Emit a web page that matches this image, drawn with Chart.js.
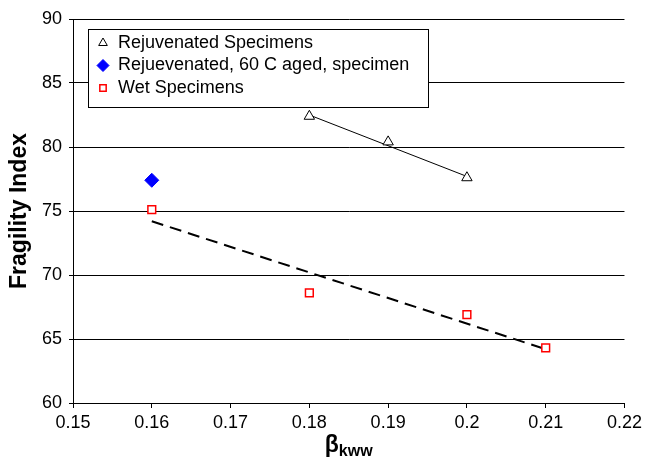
<!DOCTYPE html>
<html>
<head>
<meta charset="utf-8">
<script src="https://cdn.jsdelivr.net/npm/chart.js@4.4.0/dist/chart.umd.min.js"></script>
<style>
  body { margin: 0; background: #fff; }
</style>
</head>
<body>
<canvas id="chart" width="646" height="464"></canvas>
<script>
// values
const rejBeta = [0.18, 0.19, 0.20];
const rejFrag = [82.4, 80.4, 77.6];
const agedBeta = [0.16];
const agedFrag = [77.4];
const wetBeta = [0.16, 0.18, 0.20, 0.21];
const wetFrag = [75.1, 68.6, 66.9, 64.3];
// trend lines (end points)
const rejTrendBeta = [0.18, 0.20];
const rejTrendFrag = [82.5, 77.7];
const wetTrendBeta = [0.16, 0.21];
const wetTrendFrag = [74.2, 64.2];

const xTicks = [0.15, 0.16, 0.17, 0.18, 0.19, 0.20, 0.21, 0.22];
const yTicks = [60, 65, 70, 75, 80, 85, 90];

const pts = (xs, ys) => xs.map((x, i) => ({ x: x, y: ys[i] }));
const FONT = 'Arial, "Liberation Sans", sans-serif';

function marker(ctx, style, r, x, y) {
  ctx.beginPath();
  if (style === 'triangle') {
    ctx.moveTo(x, y - r);
    ctx.lineTo(x + r * 0.866, y + r * 0.5);
    ctx.lineTo(x - r * 0.866, y + r * 0.5);
    ctx.closePath();
  } else if (style === 'rectRot') {
    ctx.moveTo(x, y - r);
    ctx.lineTo(x + r, y);
    ctx.lineTo(x, y + r);
    ctx.lineTo(x - r, y);
    ctx.closePath();
  } else {
    const s = r * Math.SQRT1_2;
    ctx.rect(x - s, y - s, 2 * s, 2 * s);
  }
  ctx.fill();
  ctx.stroke();
}

// legend box sitting inside the plot
const legendBox = {
  id: 'legendBox',
  beforeDatasetsDraw(chart) {
    const { ctx, chartArea: a } = chart;
    const x = a.left + 15, y = a.top + 10, w = 340, h = 78;
    ctx.save();
    ctx.fillStyle = '#fff';
    ctx.fillRect(x, y, w, h);
    ctx.strokeStyle = '#000';
    ctx.lineWidth = 1;
    ctx.strokeRect(x + 0.5, y + 0.5, w, h);
    chart.data.datasets.filter(d => d.inLegend).forEach((d, i) => {
      const cy = y + 14 + i * 22.5;
      ctx.fillStyle = d.backgroundColor;
      ctx.strokeStyle = d.borderColor;
      ctx.lineWidth = d.borderWidth;
      marker(ctx, d.pointStyle, d.pointRadius - 1, x + 15, cy);
      ctx.fillStyle = '#000';
      ctx.font = '18px ' + FONT;
      ctx.textBaseline = 'middle';
      ctx.textAlign = 'left';
      ctx.fillText(d.label, x + 30, cy);
    });
    ctx.restore();
  }
};

// x axis title with subscript
const betaTitle = {
  id: 'betaTitle',
  afterDraw(chart) {
    const { ctx, chartArea: a } = chart;
    ctx.save();
    ctx.fillStyle = '#000';
    ctx.textBaseline = 'alphabetic';
    const big = 'bold 23px ' + FONT, small = 'bold 16px ' + FONT;
    ctx.font = big;
    const w1 = ctx.measureText('β').width;
    ctx.font = small;
    const w2 = ctx.measureText('kww').width;
    const x0 = (a.left + a.right) / 2 - (w1 + w2) / 2;
    ctx.font = big;
    ctx.fillText('β', x0, 452);
    ctx.font = small;
    ctx.fillText('kww', x0 + w1, 456);
    ctx.restore();
  }
};

new Chart(document.getElementById('chart'), {
  type: 'scatter',
  data: {
    datasets: [
      {
        label: 'Rejuvenated Specimens', inLegend: true,
        data: pts(rejBeta, rejFrag),
        pointStyle: 'triangle', pointRadius: 6,
        backgroundColor: '#fff', borderColor: '#000', borderWidth: 1
      },
      {
        label: 'Rejuevenated, 60 C aged, specimen', inLegend: true,
        data: pts(agedBeta, agedFrag),
        pointStyle: 'rectRot', pointRadius: 7,
        backgroundColor: '#0000ff', borderColor: '#0000ff', borderWidth: 1
      },
      {
        label: 'Wet Specimens', inLegend: true,
        data: pts(wetBeta, wetFrag),
        pointStyle: 'rect', pointRadius: 5.5,
        backgroundColor: '#fff', borderColor: '#ff0000', borderWidth: 1.5
      },
      {
        label: 'rej trend',
        data: pts(rejTrendBeta, rejTrendFrag),
        showLine: true, pointRadius: 0,
        borderColor: '#000', borderWidth: 1
      },
      {
        label: 'wet trend',
        data: pts(wetTrendBeta, wetTrendFrag),
        showLine: true, pointRadius: 0,
        borderColor: '#000', borderWidth: 2, borderDash: [12, 7]
      }
    ]
  },
  options: {
    responsive: false,
    animation: false,
    layout: { padding: { top: 19, right: 21, left: 0, bottom: 0 } },
    plugins: {
      legend: { display: false },
      tooltip: { enabled: false }
    },
    scales: {
      x: {
        type: 'linear', min: 0.15, max: 0.22,
        afterBuildTicks: s => { s.ticks = xTicks.map(v => ({ value: v })); },
        afterFit: s => { s.height = 61; },
        ticks: {
          color: '#000', padding: 4,
          font: { family: FONT, size: 18 },
          callback: v => String(Number(v.toFixed(2)))
        },
        grid: { drawOnChartArea: false, color: '#000', tickLength: 5 },
        border: { color: '#000', width: 1 }
      },
      y: {
        min: 60, max: 90,
        afterBuildTicks: s => { s.ticks = yTicks.map(v => ({ value: v })); },
        afterFit: s => { s.width = 73; },
        ticks: {
          color: '#000', padding: 7,
          font: { family: FONT, size: 18 }
        },
        grid: { color: '#000', lineWidth: 1, tickLength: 4 },
        border: { color: '#000', width: 1 },
        title: {
          display: true, text: 'Fragility Index', color: '#000',
          font: { family: FONT, size: 23, weight: 'bold' },
          padding: { top: 6, bottom: 0 }
        }
      }
    }
  },
  plugins: [legendBox, betaTitle]
});
</script>
</body>
</html>
